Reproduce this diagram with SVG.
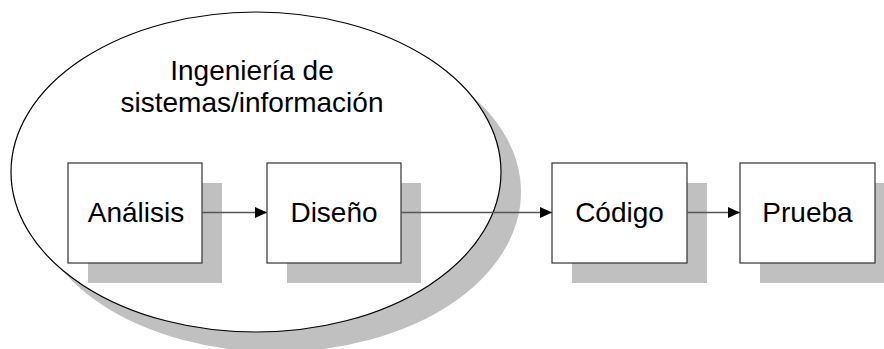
<svg xmlns="http://www.w3.org/2000/svg" width="884" height="349" viewBox="0 0 884 349">
<defs>
<style>
.shadow{fill:#c0c0c0;stroke:none}
.box{fill:#ffffff;stroke:#333333;stroke-width:1.2}
.lbl{font-family:"Liberation Sans",Arial,sans-serif;font-size:28px;fill:#000000;text-anchor:middle}
.conn{stroke:#555555;stroke-width:1.6;fill:none;marker-end:url(#arr)}
</style>
<marker id="arr" viewBox="0 0 12 12" refX="12" refY="6" markerWidth="12" markerHeight="12" markerUnits="userSpaceOnUse" orient="auto">
<path d="M0,0.5 L12,6 L0,11.5 Z" fill="#000000"/>
</marker>
</defs>
<rect width="884" height="349" fill="#ffffff"/>
<g id="ingenieria">
<ellipse class="shadow" cx="276" cy="192" rx="245" ry="160"/>
<ellipse cx="256" cy="172" rx="245" ry="160" fill="#ffffff" stroke="#000000" stroke-width="1.2"/>
<text class="lbl" x="252" y="80">Ingeniería de</text>
<text class="lbl" x="252" y="112">sistemas/información</text>
</g>
<g id="analisis">
<rect class="shadow" x="88" y="183" width="134" height="100"/>
<rect class="box" x="68" y="163" width="134" height="100"/>
<text class="lbl" x="136" y="222">Análisis</text>
</g>
<g id="diseno">
<rect class="shadow" x="287" y="183" width="134" height="100"/>
<rect class="box" x="267" y="163" width="134" height="100"/>
<text class="lbl" x="334" y="222">Diseño</text>
</g>
<g id="codigo">
<rect class="shadow" x="572" y="183" width="135" height="100"/>
<rect class="box" x="552" y="163" width="135" height="100"/>
<text class="lbl" x="619.5" y="222">Código</text>
</g>
<g id="prueba">
<rect class="shadow" x="760" y="183" width="135" height="100"/>
<rect class="box" x="740" y="163" width="135" height="100"/>
<text class="lbl" x="807.5" y="222">Prueba</text>
</g>
<g id="connectors">
<line class="conn" x1="202" y1="212.5" x2="267" y2="212.5"/>
<line class="conn" x1="401" y1="212.5" x2="552" y2="212.5"/>
<line class="conn" x1="687" y1="212.5" x2="740" y2="212.5"/>
</g>
</svg>
